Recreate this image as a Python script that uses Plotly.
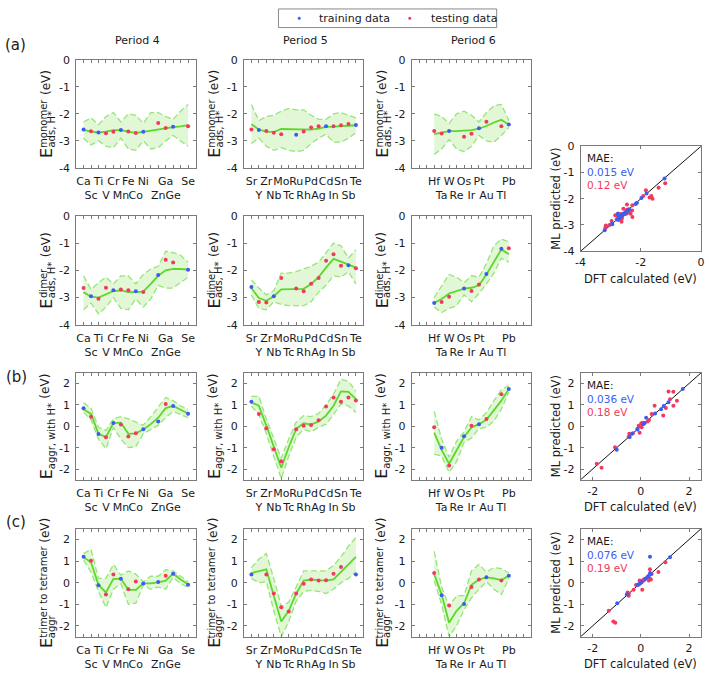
import plotly.graph_objects as go

W, H = 709, 679
FONT = "DejaVu Sans"

# ---------------- element axes ----------------
P4_EL = ["Ca", "Sc", "Ti", "V", "Cr", "Mn", "Fe", "Co", "Ni", "Zn", "Ga", "Ge", "Se"]
P4_POS = [1, 2, 3, 4, 5, 6, 7, 8, 9, 11, 12, 13, 15]
P4_LOW = [0, 1, 0, 1, 0, 1, 0, 1, 0, 1, 0, 1, 0]
P5_EL = ["Sr", "Y", "Zr", "Nb", "Mo", "Tc", "Ru", "Rh", "Pd", "Ag", "Cd", "In", "Sn", "Sb", "Te"]
P5_POS = [1, 2, 3, 4, 5, 6, 7, 8, 9, 10, 11, 12, 13, 14, 15]
P5_LOW = [0, 1, 0, 1, 0, 1, 0, 1, 0, 1, 0, 1, 0, 1, 0]
P6_EL = ["Hf", "Ta", "W", "Re", "Os", "Ir", "Pt", "Au", "Tl", "Pb"]
P6_POS = [3, 4, 5, 6, 7, 8, 9, 10, 12, 13]
P6_LOW = [0, 1, 0, 1, 0, 1, 0, 1, 1, 0]
GRID_P45 = [1, 2, 3, 4, 5, 6, 7, 8, 9, 10, 11, 12, 13, 14, 15]
GRID_P6 = [3, 4, 5, 6, 7, 8, 9, 10, 11, 12, 13]
ALL_TICKS = [1, 2, 3, 4, 5, 6, 7, 8, 9, 10, 11, 12, 13, 14, 15]

# ---------------- (a) monomer ----------------
MONO_P4_DFT = [-2.58, -2.64, -2.69, -2.72, -2.66, -2.60, -2.65, -2.71, -2.66, -2.34, -2.52, -2.48, -2.46]
MONO_P4_KIND = ["b", "r", "b", "r", "r", "b", "r", "r", "b", "r", "r", "b", "r"]
MONO_P4_FIT = [-2.59, -2.66, -2.69, -2.66, -2.60, -2.60, -2.66, -2.70, -2.67, -2.62, -2.57, -2.53, -2.49, -2.46, -2.42]
MONO_P4_UP = [-2.30, -2.15, -2.40, -2.10, -1.95, -2.30, -2.00, -2.05, -2.35, -1.95, -1.95, -2.10, -2.20, -1.90, -1.65]
MONO_P4_LO = [-2.90, -3.15, -3.00, -3.20, -3.25, -2.90, -3.30, -3.35, -3.00, -3.30, -3.25, -3.00, -2.80, -3.00, -3.20]

MONO_P5_DFT = [-2.58, -2.60, -2.63, -2.70, -2.75, None, -2.77, -2.65, -2.50, -2.46, -2.46, -2.46, -2.42, -2.37, -2.41]
MONO_P5_KIND = ["r", "b", "r", "r", "r", "-", "b", "r", "r", "r", "b", "r", "r", "r", "b"]
MONO_P5_FIT = [-2.38, -2.58, -2.66, -2.67, -2.56, -2.57, -2.58, -2.59, -2.58, -2.55, -2.48, -2.47, -2.46, -2.45, -2.42]
MONO_P5_UP = [-1.65, -2.25, -2.10, -2.05, -1.90, -1.80, -1.85, -1.85, -2.05, -2.20, -2.20, -2.00, -1.95, -2.05, -2.15]
MONO_P5_LO = [-3.10, -2.90, -3.20, -3.35, -3.25, -3.35, -3.40, -3.35, -3.10, -2.90, -2.75, -3.05, -3.05, -2.90, -2.70]

MONO_P6_DFT = [-2.63, -2.73, -2.63, None, -2.85, -2.74, -2.53, -2.29, -2.46, -2.39]
MONO_P6_KIND = ["r", "r", "b", "-", "r", "r", "b", "r", "r", "b"]
MONO_P6_FIT = [-2.75, -2.70, -2.64, -2.64, -2.63, -2.60, -2.55, -2.45, -2.32, -2.22, -2.40]
MONO_P6_UP = [-2.00, -2.10, -2.35, -2.00, -1.90, -2.05, -2.30, -1.95, -1.70, -1.65, -2.25]
MONO_P6_LO = [-3.50, -3.30, -2.95, -3.30, -3.40, -3.20, -2.80, -3.00, -3.05, -2.80, -2.50]

# ---------------- (a) dimer ----------------
DIM_P4_DFT = [-2.65, -2.95, -3.04, -2.64, -2.73, -2.70, -2.73, -2.77, -2.80, -2.17, -1.61, -1.71, -1.98]
DIM_P4_KIND = ["r", "b", "r", "r", "b", "r", "r", "b", "r", "b", "r", "r", "b"]
DIM_P4_FIT = [-2.80, -2.97, -3.00, -2.88, -2.76, -2.74, -2.80, -2.80, -2.78, -2.50, -2.20, -2.00, -1.95, -1.95, -1.97]
DIM_P4_UP = [-2.20, -2.70, -2.45, -2.25, -2.50, -2.20, -2.20, -2.50, -2.15, -1.95, -1.85, -1.30, -1.35, -1.45, -1.70]
DIM_P4_LO = [-3.45, -3.20, -3.60, -3.35, -3.00, -3.40, -3.45, -3.05, -3.35, -3.05, -2.55, -2.65, -2.65, -2.45, -2.25]

DIM_P5_DFT = [-2.61, -3.16, -3.18, -2.95, -2.28, None, -2.67, -2.77, -2.49, -2.28, -1.65, -1.41, -1.83, -1.81, -1.92]
DIM_P5_KIND = ["b", "r", "r", "b", "r", "-", "r", "r", "r", "r", "r", "r", "r", "b", "r"]
DIM_P5_FIT = [-2.65, -3.02, -3.12, -2.95, -2.70, -2.70, -2.70, -2.68, -2.50, -2.25, -1.90, -1.58, -1.68, -1.80, -1.90]
DIM_P5_UP = [-2.35, -2.65, -2.90, -2.75, -2.10, -2.10, -2.05, -1.95, -1.85, -1.70, -1.35, -1.00, -1.10, -1.55, -1.25]
DIM_P5_LO = [-2.90, -3.40, -3.45, -3.15, -3.25, -3.30, -3.30, -3.30, -3.15, -2.80, -2.55, -2.20, -2.25, -2.05, -2.50]

DIM_P6_DFT = [-3.20, -3.16, -2.97, None, -2.67, -2.76, -2.52, -2.13, -1.21, -1.19]
DIM_P6_KIND = ["b", "r", "r", "-", "b", "r", "r", "b", "b", "r"]
DIM_P6_FIT = [-3.20, -3.05, -2.85, -2.75, -2.67, -2.64, -2.55, -2.15, -1.70, -1.23, -1.41]
DIM_P6_UP = [-3.00, -2.55, -2.15, -2.25, -2.45, -2.20, -2.25, -1.75, -1.10, -0.85, -0.95]
DIM_P6_LO = [-3.35, -3.55, -3.40, -3.30, -2.90, -3.15, -2.85, -2.50, -2.10, -1.55, -1.70]

# ---------------- (b) aggregation with H* ----------------
AGG_P4_DFT = [0.84, 0.45, -0.36, -0.51, 0.16, 0.08, -0.48, -0.33, -0.14, 0.22, 1.04, 0.95, 0.59]
AGG_P4_KIND = ["b", "r", "b", "r", "b", "r", "r", "r", "b", "b", "r", "b", "b"]
AGG_P4_FIT = [0.80, 0.58, -0.35, -0.50, 0.15, 0.17, -0.35, -0.33, -0.15, 0.10, 0.40, 0.85, 0.95, 0.78, 0.60]
AGG_P4_UP = [1.10, 0.85, -0.05, -0.20, 0.35, 0.45, 0.35, 0.20, 0.05, 0.45, 0.90, 1.35, 1.20, 0.95, 0.80]
AGG_P4_LO = [0.65, 0.30, -0.60, -1.05, -0.05, -0.60, -1.00, -0.95, -0.35, -0.15, 0.05, 0.40, 0.70, 0.55, 0.40]

AGG_P5_DFT = [1.15, 0.57, -0.09, -1.07, -1.63, None, -0.14, 0.02, 0.06, 0.28, 0.93, 1.35, 1.15, 1.35, 1.21]
AGG_P5_KIND = ["b", "r", "r", "r", "r", "-", "r", "r", "r", "r", "r", "r", "r", "r", "r"]
AGG_P5_FIT = [1.12, 0.96, 0.03, -0.98, -1.94, -0.98, -0.12, 0.14, 0.08, 0.23, 0.50, 0.96, 1.63, 1.61, 1.27]
AGG_P5_UP = [1.40, 1.40, 0.35, -0.60, -1.50, -0.60, 0.20, 0.50, 0.45, 0.60, 1.00, 1.50, 2.20, 2.10, 1.65]
AGG_P5_LO = [0.95, 0.55, -0.35, -1.35, -2.45, -1.40, -0.50, -0.15, -0.25, -0.05, 0.10, 0.55, 1.05, 0.95, 0.65]

AGG_P6_DFT = [-0.05, -1.00, -1.83, None, -0.46, 0.03, 0.10, 0.34, 1.50, 1.74]
AGG_P6_KIND = ["r", "b", "r", "-", "b", "r", "b", "r", "r", "b"]
AGG_P6_FIT = [-0.30, -1.10, -1.75, -1.15, -0.50, -0.05, 0.10, 0.30, 0.75, 1.20, 1.74]
AGG_P6_UP = [0.70, -0.60, -1.45, -0.70, -0.25, 0.45, 0.30, 0.65, 1.20, 1.70, 1.90]
AGG_P6_LO = [-1.30, -1.40, -2.15, -1.65, -0.75, -0.55, -0.10, -0.05, 0.25, 0.80, 1.60]

# ---------------- (c) trimer to tetramer ----------------
TRI_P4_DFT = [1.21, 1.02, -0.12, -0.55, 0.38, 0.18, -0.30, 0.06, -0.03, 0.03, 0.33, 0.42, -0.09]
TRI_P4_KIND = ["b", "r", "b", "r", "r", "b", "r", "r", "b", "b", "r", "b", "b"]
TRI_P4_FIT = [1.18, 0.95, -0.10, -0.45, 0.18, 0.18, -0.33, -0.33, -0.03, -0.03, 0.02, 0.10, 0.42, 0.15, -0.07]
TRI_P4_UP = [1.35, 1.55, 0.20, 0.20, 0.85, 0.35, 0.55, 0.40, 0.05, 0.30, 0.30, 0.60, 0.55, 0.30, 0.05]
TRI_P4_LO = [1.05, 0.50, -0.40, -1.15, -0.30, -0.05, -1.00, -0.95, -0.10, -0.30, -0.20, -0.30, 0.25, -0.05, -0.20]

TRI_P5_DFT = [0.38, None, 0.38, -0.50, -1.14, -1.33, -0.50, -0.05, 0.15, 0.10, 0.12, 0.42, 0.73, None, 0.38]
TRI_P5_KIND = ["b", "-", "r", "r", "r", "r", "r", "r", "r", "r", "r", "r", "r", "-", "b"]
TRI_P5_FIT = [0.45, 0.55, 0.62, -0.60, -1.80, -1.30, -0.50, 0.10, 0.15, 0.12, 0.10, 0.15, 0.50, 0.85, 1.20]
TRI_P5_UP = [0.70, 1.10, 1.35, 0.20, -1.10, -0.90, -0.20, 0.55, 0.55, 0.55, 0.55, 0.80, 1.20, 1.70, 2.10]
TRI_P5_LO = [0.20, 0.00, 0.05, -1.30, -2.50, -1.80, -0.85, -0.40, -0.35, -0.40, -0.50, -0.30, 0.00, 0.20, 0.50]

TRI_P6_DFT = [0.45, -0.58, -1.06, None, -0.98, -0.20, 0.15, 0.26, 0.10, 0.33]
TRI_P6_KIND = ["r", "b", "r", "-", "b", "r", "r", "b", "r", "b"]
TRI_P6_FIT = [0.40, -0.55, -1.85, -1.30, -0.95, -0.10, 0.15, 0.25, 0.20, 0.12, 0.33]
TRI_P6_UP = [1.45, -0.20, -1.10, -0.60, -0.60, 0.55, 0.85, 0.50, 0.70, 0.65, 0.45]
TRI_P6_LO = [0.10, -1.00, -2.50, -2.00, -1.25, -0.70, -0.30, 0.05, -0.30, -0.55, 0.20]

MAE_TRAIN = ["0.015 eV", "0.036 eV", "0.076 eV"]
MAE_TEST = ["0.12 eV", "0.18 eV", "0.19 eV"]

# ---------------- style ----------------
BLUE = "#3c5cf2"
RED = "#f23a5e"
FIT_C = "#5cd82a"
BAND_LINE = "#96e57a"
BAND_FILL = "rgba(200,240,180,0.55)"
BOX = "#7a7a7a"
TXT = "#1a1a1a"

COLX = [(72, 193), (242, 363), (412, 533)]
ROWY = [(55, 165), (214, 325), (374, 483), (533, 643)]
SCX = (583, 705)
SCY = [(143, 250), (374, 483), (533, 643)]

PERIODS = [
    (P4_EL, P4_POS, P4_LOW, GRID_P45),
    (P5_EL, P5_POS, P5_LOW, GRID_P45),
    (P6_EL, P6_POS, P6_LOW, GRID_P6),
]
ROWS = [
    [(MONO_P4_DFT, MONO_P4_KIND, MONO_P4_FIT, MONO_P4_UP, MONO_P4_LO),
     (MONO_P5_DFT, MONO_P5_KIND, MONO_P5_FIT, MONO_P5_UP, MONO_P5_LO),
     (MONO_P6_DFT, MONO_P6_KIND, MONO_P6_FIT, MONO_P6_UP, MONO_P6_LO)],
    [(DIM_P4_DFT, DIM_P4_KIND, DIM_P4_FIT, DIM_P4_UP, DIM_P4_LO),
     (DIM_P5_DFT, DIM_P5_KIND, DIM_P5_FIT, DIM_P5_UP, DIM_P5_LO),
     (DIM_P6_DFT, DIM_P6_KIND, DIM_P6_FIT, DIM_P6_UP, DIM_P6_LO)],
    [(AGG_P4_DFT, AGG_P4_KIND, AGG_P4_FIT, AGG_P4_UP, AGG_P4_LO),
     (AGG_P5_DFT, AGG_P5_KIND, AGG_P5_FIT, AGG_P5_UP, AGG_P5_LO),
     (AGG_P6_DFT, AGG_P6_KIND, AGG_P6_FIT, AGG_P6_UP, AGG_P6_LO)],
    [(TRI_P4_DFT, TRI_P4_KIND, TRI_P4_FIT, TRI_P4_UP, TRI_P4_LO),
     (TRI_P5_DFT, TRI_P5_KIND, TRI_P5_FIT, TRI_P5_UP, TRI_P5_LO),
     (TRI_P6_DFT, TRI_P6_KIND, TRI_P6_FIT, TRI_P6_UP, TRI_P6_LO)],
]
YTITLES = [("monomer", "ads, H*"), ("dimer", "ads, H*"), (None, "aggr, with H*"), ("trimer to tetramer", "aggr")]

CW = {" ": .318, "(": .390, ")": .390, "*": .5, ",": .318, "-": .361, ".": .318, ":": .337,
      "E": .632, "H": .752, "V": .684, "a": .613, "c": .550, "d": .635, "e": .615, "g": .635,
      "h": .634, "i": .278, "l": .278, "m": .974, "n": .634, "o": .612, "p": .635, "r": .411,
      "s": .521, "t": .392, "u": .634, "w": .818}


def tw(s, size):
    return sum(CW.get(c, 0.6) for c in s) * size


def fx(px):
    return px / W


def fy(py):
    return 1 - py / H


fig = go.Figure()
layout = {}
annotations = []
shapes = []


def axnames(i):
    return ("x" if i == 1 else f"x{i}", "y" if i == 1 else f"y{i}",
            "xaxis" if i == 1 else f"xaxis{i}", "yaxis" if i == 1 else f"yaxis{i}")


def base_axis(dom, rng, tv, tt, anchor, standoff=3):
    return dict(domain=dom, range=rng, tickvals=tv, ticktext=tt, ticks="inside", ticklen=3,
                tickcolor=BOX, tickwidth=1, showline=True, linecolor=BOX, linewidth=1,
                mirror="ticks", showgrid=False, zeroline=False, anchor=anchor, tickangle=0,
                tickfont=dict(family=FONT, size=11, color=TXT), ticklabelstandoff=standoff,
                fixedrange=True)


idx = 0
scatter_pts = [[], [], []]
for r in range(4):
    for c in range(3):
        idx += 1
        xa, ya, xk, yk = axnames(idx)
        els, pos, low, grid = PERIODS[c]
        dft, kind, fit, up, lo = ROWS[r][c]
        ticktext = []
        for t in ALL_TICKS:
            if t in pos:
                k = pos.index(t)
                ticktext.append(("<br>" + els[k]) if low[k] else els[k])
            else:
                ticktext.append("")
        layout[xk] = base_axis([fx(COLX[c][0]), fx(COLX[c][1])], [0, 16], ALL_TICKS, ticktext, ya)
        if r < 2:
            yv = [-4, -3, -2, -1, 0]
            yr = [-4, 0]
        else:
            yv = [-2, -1, 0, 1, 2]
            yr = [-2.5, 2.5]
        layout[yk] = base_axis([fy(ROWY[r][1]), fy(ROWY[r][0])], yr, yv, [str(v) for v in yv], xa)
        # band
        fig.add_trace(go.Scatter(x=grid, y=up, mode="lines", xaxis=xa, yaxis=ya,
                                 line=dict(color=BAND_LINE, width=1.3, dash="6px,3px"), hoverinfo="skip"))
        fig.add_trace(go.Scatter(x=grid, y=lo, mode="lines", xaxis=xa, yaxis=ya, fill="tonexty",
                                 fillcolor=BAND_FILL,
                                 line=dict(color=BAND_LINE, width=1.3, dash="6px,3px"), hoverinfo="skip"))
        fig.add_trace(go.Scatter(x=grid, y=fit, mode="lines", xaxis=xa, yaxis=ya,
                                 line=dict(color=FIT_C, width=1.8), hoverinfo="skip"))
        for kk, col in (("r", RED), ("b", BLUE)):
            xs = [pos[i] for i in range(len(pos)) if kind[i] == kk]
            ys = [dft[i] for i in range(len(pos)) if kind[i] == kk]
            fig.add_trace(go.Scatter(x=xs, y=ys, mode="markers", xaxis=xa, yaxis=ya,
                                     marker=dict(color=col, size=4), hoverinfo="skip"))
        grp = 0 if r < 2 else r - 1
        for i in range(len(pos)):
            if kind[i] in ("r", "b"):
                scatter_pts[grp].append((dft[i], fit[grid.index(pos[i])], kind[i]))

        # y-axis title built from pieces (E with stacked super/subscript)
        sup, sub = YTITLES[r]
        x0 = COLX[c][0]
        yc = (ROWY[r][0] + ROWY[r][1]) / 2
        sE, sS, sU = 16, 10, 12
        wE = tw("E", sE)
        wsup = tw(sup, sS) if sup else 0
        wsub = tw(sub, sS)
        weV = tw("(eV)", sU)
        g1, g2 = 0.5, 5
        L = wE + g1 + max(wsup, wsub) + g2 + weV
        yb = yc + L / 2
        pieces = [("E", sE, x0 - 30, yb - wE / 2)]
        if sup:
            pieces.append((sup, sS, x0 - 33, yb - wE - g1 - wsup / 2))
        pieces.append((sub, sS, x0 - 25, yb - wE - g1 - wsub / 2))
        pieces.append(("(eV)", sU, x0 - 31, yb - wE - g1 - max(wsup, wsub) - g2 - weV / 2))
        for txt, sz, px, py in pieces:
            annotations.append(dict(text=txt, x=fx(px), y=fy(py), xref="paper", yref="paper",
                                    xanchor="center", yanchor="middle", textangle=-90, showarrow=False,
                                    font=dict(family=FONT, size=sz, color=TXT)))

# ---------------- parity plots ----------------
for s in range(3):
    idx += 1
    xa, ya, xk, yk = axnames(idx)
    if s == 0:
        rng = [-4, 0]
        xt = [-4, -2, 0]
        yt = [-4, -3, -2, -1, 0]
    else:
        rng = [-2.5, 2.5]
        xt = [-2, 0, 2]
        yt = [-2, -1, 0, 1, 2]
    layout[xk] = base_axis([fx(SCX[0]), fx(SCX[1])], rng, xt, [str(v) for v in xt], ya, standoff=1)
    layout[yk] = base_axis([fy(SCY[s][1]), fy(SCY[s][0])], rng, yt, [str(v) for v in yt], xa)
    fig.add_trace(go.Scatter(x=rng, y=rng, mode="lines", xaxis=xa, yaxis=ya,
                             line=dict(color="#111111", width=1), hoverinfo="skip"))
    for kk, col in (("r", RED), ("b", BLUE)):
        pts = [p for p in scatter_pts[s] if p[2] == kk]
        fig.add_trace(go.Scatter(x=[p[0] for p in pts], y=[p[1] for p in pts], mode="markers",
                                 xaxis=xa, yaxis=ya, marker=dict(color=col, size=4), hoverinfo="skip"))
    top = SCY[s][0]
    mae = (f"MAE:<br><span style='color:{BLUE}'>{MAE_TRAIN[s]}</span>"
           f"<br><span style='color:{RED}'>{MAE_TEST[s]}</span>")
    annotations.append(dict(text=mae, x=fx(SCX[0] + 4), y=fy(top + 4), xref="paper", yref="paper",
                            xanchor="left", yanchor="top", align="left", showarrow=False,
                            font=dict(family=FONT, size=10.5, color=TXT)))
    annotations.append(dict(text="ML predicted (eV)", x=fx(SCX[0] - 25), y=fy((SCY[s][0] + SCY[s][1]) / 2),
                            xref="paper", yref="paper", xanchor="center", yanchor="middle", textangle=-90,
                            showarrow=False, font=dict(family=FONT, size=11.5, color=TXT)))
    annotations.append(dict(text="DFT calculated (eV)", x=fx((SCX[0] + SCX[1]) / 2), y=fy(SCY[s][1] + 28),
                            xref="paper", yref="paper", xanchor="center", yanchor="middle",
                            showarrow=False, borderpad=0, font=dict(family=FONT, size=11.5, color=TXT)))

# ---------------- headers ----------------
for c, name in enumerate(["Period 4", "Period 5", "Period 6"]):
    annotations.append(dict(text=name, x=fx((COLX[c][0] + COLX[c][1]) / 2 + 2), y=fy(35), xref="paper",
                            yref="paper", xanchor="center", yanchor="middle", showarrow=False,
                            font=dict(family=FONT, size=11, color=TXT)))
for lab, px, py in (("(a)", 11, 40), ("(b)", 12, 378), ("(c)", 11, 526)):
    annotations.append(dict(text=lab, x=fx(px), y=fy(py), xref="paper", yref="paper", xanchor="center",
                            yanchor="middle", showarrow=False, font=dict(family=FONT, size=15, color=TXT)))

# ---------------- legend (manual) ----------------
shapes.append(dict(type="rect", xref="paper", yref="paper", x0=fx(277), x1=fx(498), y0=fy(22), y1=fy(3),
                   line=dict(color="#8a8a8a", width=1), fillcolor="white"))
for lx, col, txt, tx in ((298, BLUE, "training data", 316), (410, RED, "testing data", 429)):
    shapes.append(dict(type="circle", xref="paper", yref="paper", x0=fx(lx - 1.6), x1=fx(lx + 1.6),
                       y0=fy(12.5 + 1.6), y1=fy(12.5 - 1.6), fillcolor=col, line=dict(width=0)))
    annotations.append(dict(text=txt, x=fx(tx), y=fy(12.5), xref="paper", yref="paper", xanchor="left",
                            yanchor="middle", showarrow=False, font=dict(family=FONT, size=11, color=TXT)))

fig.update_layout(**layout)
fig.update_layout(width=W, height=H, margin=dict(l=0, r=0, t=0, b=0), showlegend=False,
                  paper_bgcolor="white", plot_bgcolor="white", annotations=annotations, shapes=shapes,
                  font=dict(family=FONT, size=11, color=TXT))
fig.write_html("out.html", config={"displayModeBar": False},
               post_script="document.body.style.margin='0px';document.body.style.overflow='hidden';")
